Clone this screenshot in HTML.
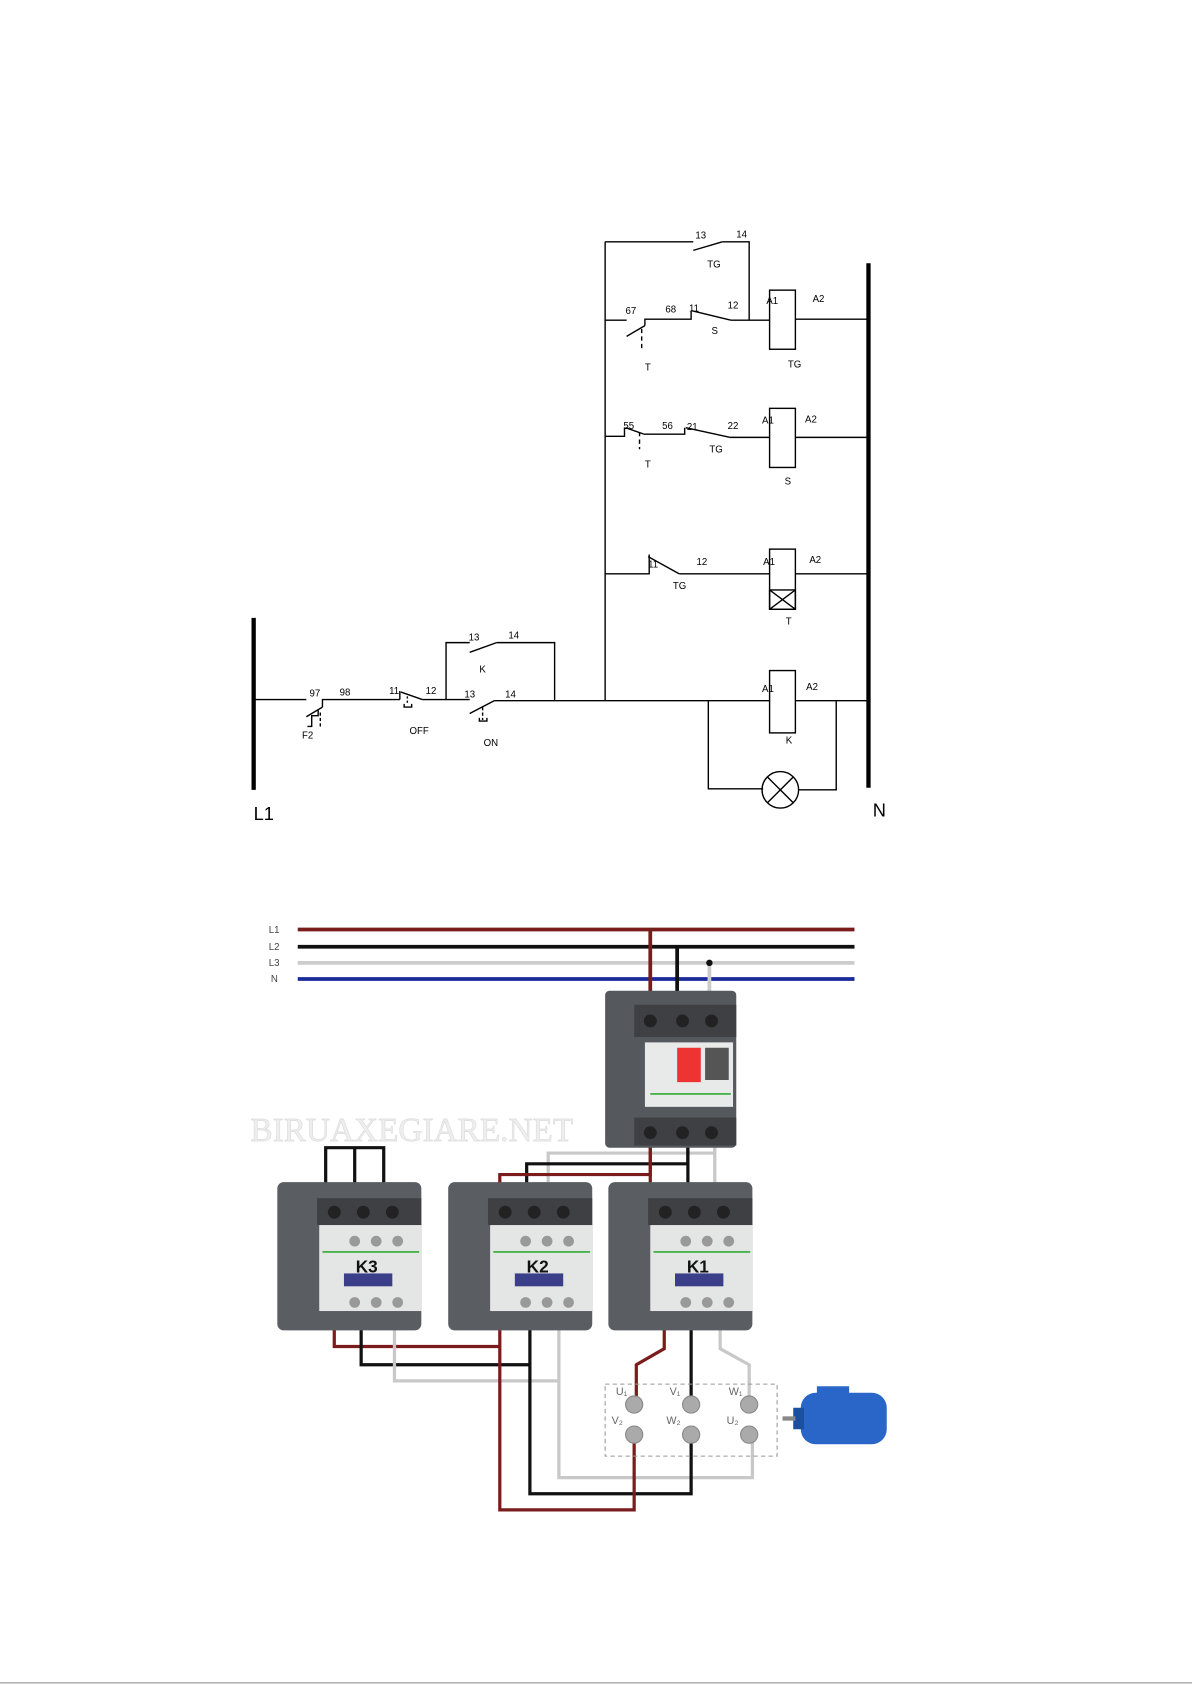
<!DOCTYPE html>
<html><head><meta charset="utf-8"><style>
html,body{margin:0;padding:0;background:#fff;width:1192px;height:1685px;overflow:hidden}
svg{display:block}
text{font-family:"Liberation Sans",sans-serif}
</style></head><body>
<svg width="1192" height="1685" viewBox="0 0 1109 1568" preserveAspectRatio="none" xmlns="http://www.w3.org/2000/svg">
<rect width="1109" height="1568" fill="#fff"/>
<g stroke="#000" stroke-width="1.3" fill="none">
<line x1="236" y1="575" x2="236" y2="735" stroke-width="4"/>
<line x1="808" y1="245" x2="808" y2="733" stroke-width="4"/>
<polyline points="236,651 285,651"/>
<line x1="285" y1="667" x2="300" y2="658"/>
<polyline points="300,658 300,651 372,651"/>
<line x1="372" y1="643" x2="372" y2="651"/>
<line x1="373" y1="644" x2="393" y2="651"/>
<polyline points="393,651 437,651"/>
<line x1="437" y1="664" x2="460" y2="652"/>
<polyline points="460,652 516,652 808,652"/>
<polyline points="296,660 296,666 290,666 290,676 286,676"/>
<line x1="298" y1="663" x2="298" y2="676" stroke-dasharray="3,2"/>
<line x1="379" y1="648" x2="379" y2="656" stroke-dasharray="2,2"/>
<polyline points="376,655 376,658 383,658 383,655"/>
<line x1="449" y1="658" x2="449" y2="670" stroke-dasharray="3,2"/>
<polyline points="446,668 446,671 453,671 453,668"/>
<polyline points="415,651 415,598 437,598"/>
<line x1="437" y1="607" x2="462" y2="598"/>
<polyline points="462,598 516,598 516,652"/>
<line x1="563" y1="225" x2="563" y2="652"/>
<polyline points="563,225 645,225"/>
<line x1="645" y1="233" x2="672" y2="225"/>
<polyline points="672,225 697,225 697,298"/>
<polyline points="563,298 583,298"/>
<line x1="583" y1="313" x2="600" y2="303"/>
<polyline points="600,303 600,297 643,297 643,290"/>
<line x1="643" y1="289" x2="680" y2="298"/>
<polyline points="680,298 716,298"/>
<rect x="716" y="270" width="24" height="55"/>
<line x1="740" y1="297" x2="808" y2="297"/>
<line x1="597" y1="306" x2="597" y2="325" stroke-dasharray="4,3"/>
<polyline points="563,406 581,406 581,398"/>
<line x1="582" y1="398" x2="599" y2="404"/>
<polyline points="599,404 637,404 637,398"/>
<line x1="638" y1="398" x2="679" y2="407"/>
<polyline points="679,407 716,407"/>
<rect x="716" y="380" width="24" height="55"/>
<line x1="740" y1="407" x2="808" y2="407"/>
<line x1="595" y1="402" x2="595" y2="418" stroke-dasharray="4,3"/>
<polyline points="563,534 604,534 604,516"/>
<line x1="603" y1="518" x2="632" y2="534"/>
<polyline points="632,534 716,534"/>
<rect x="716" y="511" width="24" height="56"/>
<rect x="716" y="549" width="24" height="18"/>
<line x1="716" y1="549" x2="740" y2="567"/>
<line x1="740" y1="549" x2="716" y2="567"/>
<line x1="740" y1="534" x2="808" y2="534"/>
<rect x="716" y="624" width="24" height="58" fill="#fff"/>
<polyline points="659,652 659,734 710,734"/>
<circle cx="726" cy="735" r="17"/>
<line x1="714" y1="723" x2="738" y2="747"/>
<line x1="738" y1="723" x2="714" y2="747"/>
<polyline points="743,735 778,735 778,652"/>
</g>
<g font-size="9" fill="#000">
<text x="647" y="222">13</text><text x="685" y="221">14</text><text x="658" y="249">TG</text>
<text x="582" y="292">67</text><text x="619" y="291">68</text><text x="641" y="290">11</text><text x="677" y="287">12</text>
<text x="662" y="311">S</text><text x="600" y="345">T</text>
<text x="713" y="283">A1</text><text x="756" y="281">A2</text><text x="733" y="342">TG</text>
<text x="580" y="399">55</text><text x="616" y="399">56</text><text x="639" y="400">21</text><text x="677" y="399">22</text>
<text x="660" y="421">TG</text><text x="600" y="435">T</text>
<text x="709" y="394">A1</text><text x="749" y="393">A2</text><text x="730" y="451">S</text>
<text x="603" y="528">11</text><text x="648" y="526">12</text><text x="626" y="548">TG</text>
<text x="710" y="526">A1</text><text x="753" y="524">A2</text><text x="731" y="581">T</text>
<text x="436" y="596">13</text><text x="473" y="594">14</text><text x="446" y="626">K</text>
<text x="288" y="648">97</text><text x="316" y="647">98</text><text x="362" y="646">11</text><text x="396" y="646">12</text>
<text x="432" y="649">13</text><text x="470" y="649">14</text>
<text x="281" y="687">F2</text><text x="381" y="683">OFF</text><text x="450" y="694">ON</text>
<text x="709" y="644">A1</text><text x="750" y="642">A2</text><text x="731" y="692">K</text>
</g>
<text x="236" y="763" font-size="17">L1</text>
<text x="812" y="760" font-size="17">N</text>

<g font-size="9" fill="#444"><text x="250" y="868">L1</text><text x="250" y="884">L2</text><text x="250" y="899">L3</text><text x="252" y="914">N</text></g>
<g stroke-width="3.5" fill="none">
<line x1="277" y1="865" x2="795" y2="865" stroke="#7a1c1c"/>
<line x1="277" y1="881" x2="795" y2="881" stroke="#111"/>
<line x1="277" y1="896" x2="795" y2="896" stroke="#ccc"/>
<line x1="277" y1="911" x2="795" y2="911" stroke="#1a2a9a"/>
<line x1="605" y1="865" x2="605" y2="940" stroke="#7a1c1c"/>
<line x1="630" y1="881" x2="630" y2="940" stroke="#111"/>
<line x1="660" y1="896" x2="660" y2="940" stroke="#ccc"/>
</g>
<circle cx="660" cy="896" r="3" fill="#111"/>
<g stroke-width="3" fill="none">
<polyline points="665,1060 665,1073 510,1073 510,1120" stroke="#c8c8c8"/>
<polyline points="640,1060 640,1083 490,1083 490,1120" stroke="#111"/>
<polyline points="605,1060 605,1093 465,1093 465,1120" stroke="#7a1c1c"/>
<line x1="605" y1="1060" x2="605" y2="1125" stroke="#7a1c1c"/>
<line x1="640" y1="1060" x2="640" y2="1125" stroke="#111"/>
<line x1="665" y1="1060" x2="665" y2="1125" stroke="#c8c8c8"/>
<polyline points="303,1120 303,1068 357,1068 357,1120" stroke="#111"/>
<line x1="330" y1="1068" x2="330" y2="1120" stroke="#111"/>
<polyline points="311,1230 311,1253 465,1253" stroke="#7a1c1c"/>
<polyline points="336,1230 336,1270 493,1270" stroke="#111"/>
<polyline points="367,1230 367,1285 520,1285" stroke="#c8c8c8"/>
<polyline points="520,1230 520,1375 700,1375 700,1342" stroke="#c8c8c8"/>
<polyline points="493,1230 493,1390 643,1390 643,1342" stroke="#111"/>
<polyline points="465,1230 465,1405 590,1405 590,1342" stroke="#7a1c1c"/>
<polyline points="618,1230 618,1255 592,1270 592,1300" stroke="#7a1c1c"/>
<polyline points="643,1230 643,1300" stroke="#111"/>
<polyline points="670,1230 670,1255 697,1270 697,1300" stroke="#c8c8c8"/>
</g>
<rect x="563" y="922" width="122" height="146" rx="4" fill="#55585c"/>
<rect x="590" y="935" width="95" height="30" fill="#3e4044"/>
<circle cx="605" cy="950" r="6" fill="#222"/><circle cx="635" cy="950" r="6" fill="#222"/><circle cx="662" cy="950" r="6" fill="#222"/>
<rect x="600" y="970" width="82" height="60" fill="#e8eaea"/>
<rect x="630" y="975" width="22" height="32" fill="#e33"/>
<rect x="656" y="975" width="22" height="30" fill="#555"/>
<line x1="605" y1="1018" x2="680" y2="1018" stroke="#3a3" stroke-width="1.5"/>
<rect x="590" y="1040" width="95" height="26" fill="#3e4044"/>
<circle cx="605" cy="1054" r="6" fill="#222"/><circle cx="635" cy="1054" r="6" fill="#222"/><circle cx="662" cy="1054" r="6" fill="#222"/>
<text x="233" y="1062" style="font-family:'Liberation Serif',serif;font-size:31px" fill="#eeeeee" stroke="#dcdcdc" stroke-width="0.6">BIRUAXEGIARE.NET</text>
<g id="k">
<rect x="258" y="1100" width="134" height="138" rx="6" fill="#5a5d61"/>
<rect x="295" y="1115" width="97" height="25" fill="#3e4044"/>
<circle cx="311" cy="1128" r="6" fill="#222"/><circle cx="338" cy="1128" r="6" fill="#222"/><circle cx="365" cy="1128" r="6" fill="#222"/>
<rect x="297" y="1140" width="95" height="80" fill="#e4e6e6"/>
<line x1="300" y1="1165" x2="390" y2="1165" stroke="#3a3" stroke-width="1.5"/>
<rect x="320" y="1185" width="45" height="12" fill="#3b3f8a"/>
<circle cx="330" cy="1155" r="5" fill="#999"/><circle cx="350" cy="1155" r="5" fill="#999"/><circle cx="370" cy="1155" r="5" fill="#999"/>
<circle cx="330" cy="1212" r="5" fill="#999"/><circle cx="350" cy="1212" r="5" fill="#999"/><circle cx="370" cy="1212" r="5" fill="#999"/>
</g>
<use href="#k" x="159"/>
<use href="#k" x="308"/>
<g font-size="16" font-weight="bold" fill="#111"><text x="331" y="1184">K3</text><text x="490" y="1184">K2</text><text x="639" y="1184">K1</text></g>
<rect x="563" y="1288" width="160" height="67" fill="none" stroke="#999" stroke-dasharray="4,3"/>
<g fill="#aaa" stroke="#888"><circle cx="590" cy="1307" r="8"/><circle cx="643" cy="1307" r="8"/><circle cx="697" cy="1307" r="8"/><circle cx="590" cy="1335" r="8"/><circle cx="643" cy="1335" r="8"/><circle cx="697" cy="1335" r="8"/></g>
<g font-size="10" fill="#666"><text x="573" y="1298">U₁</text><text x="623" y="1298">V₁</text><text x="678" y="1298">W₁</text><text x="569" y="1325">V₂</text><text x="620" y="1325">W₂</text><text x="676" y="1325">U₂</text></g>
<rect x="745" y="1296" width="80" height="48" rx="14" fill="#2a66c8"/>
<rect x="738" y="1310" width="10" height="20" fill="#1d4fa0"/>
<rect x="728" y="1318" width="12" height="4" fill="#888"/>
<rect x="760" y="1290" width="30" height="10" fill="#2a66c8"/>
<line x1="0" y1="1566" x2="1109" y2="1566" stroke="#888" stroke-width="1"/>
</svg>
</body></html>
